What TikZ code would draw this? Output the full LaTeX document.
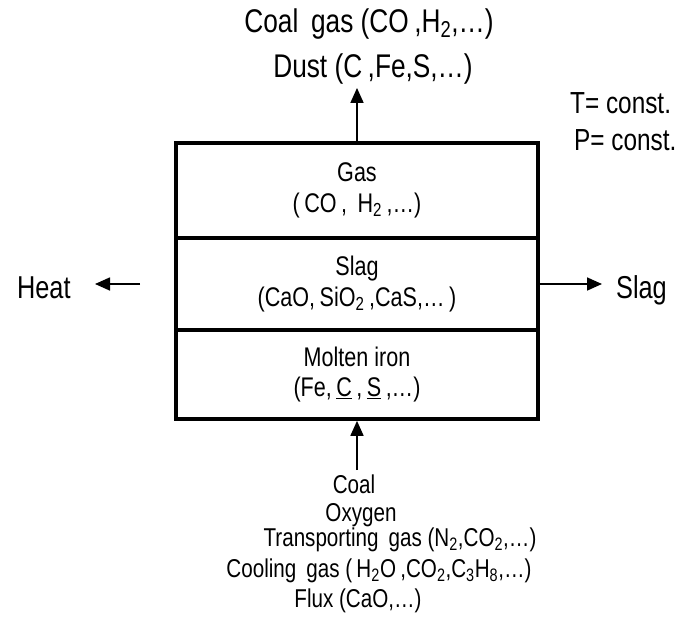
\documentclass[tikz,border=0pt]{standalone}
\usepackage{fontspec}
\setmainfont[FakeStretch=0.8]{Liberation Sans}
\usetikzlibrary{arrows.meta}

\tikzset{
	layer/.style={draw, line width=1.1mm, minimum width=108.6mm, inner sep=0pt, align=center, font=\fontsize{23}{26}\selectfont},
	outlabel/.style={anchor=base, font=\fontsize{28}{34}\selectfont},
	sidelabel/.style={anchor=base west, font=\fontsize{27}{32}\selectfont},
	condlabel/.style={anchor=base west, font=\fontsize{26}{32}\selectfont},
	feedlabel/.style={anchor=base, font=\fontsize{22}{26}\selectfont},
	flow/.style={line width=0.5mm, -{Triangle[length=4.5mm,width=3.9mm]}}
}

\begin{document}
\begin{tikzpicture}[x=0.3mm,y=-0.3mm]
			\useasboundingbox (0,0) rectangle (683,616);
			
			\node[layer, minimum height=28.5mm] (gas) at (357,190.5) {Gas\\(\,CO\,,\, H\textsubscript{2}\,,\ldots)};
			\node[layer, minimum height=27.6mm] (slag) at (357,284) {Slag\\(CaO,\,SiO\textsubscript{2}\,,CaS,\ldots\,)};
			\node[layer, minimum height=26.7mm] (iron) at (357,374.5) {Molten iron\\(Fe,\,\underline{C}\,,\,\underline{S}\,,\ldots)};
			
			\node[outlabel] (coalgas) at (369,32) {Coal\, gas (CO\,,H\textsubscript{2},\ldots)};
			\node[outlabel] (dust) at (373,77) {Dust (C\,,Fe,S,\ldots)};
			
			\node[condlabel] (tconst) at (566,113) {T= const.};
			\node[condlabel] (pconst) at (570,150) {P= const.};
			
			\node[sidelabel] (heat) at (13,298) {Heat};
			\node[sidelabel] (slagout) at (612,298) {Slag};
			\coordinate (heatfrom) at (140,284);
			\coordinate (heatto) at (95,284);
			
			\node[feedlabel] (coal) at (354,493) {Coal};
			\node[feedlabel] (oxygen) at (361,521) {Oxygen};
			\node[feedlabel] (transp) at (400,546) {Transporting\, gas (N\textsubscript{2},CO\textsubscript{2},\ldots)};
			\node[feedlabel] (cooling) at (379,577) {Cooling\, gas (\,H\textsubscript{2}O\,,CO\textsubscript{2},C\textsubscript{3}H\textsubscript{8},\ldots)};
			\node[feedlabel] (flux) at (358,607) {Flux (CaO,\ldots)};
			
			\draw[flow] (gas.north) -- (gas.north |- dust.south);
			\draw[flow] (heatfrom) -- (heatto);
			\draw[flow, shorten >=3mm] (slag.east) -- (slagout.west |- slag.east);
			\draw[flow] (iron.south |- coal.north) -- (iron.south);
		\end{tikzpicture}
\end{document}
